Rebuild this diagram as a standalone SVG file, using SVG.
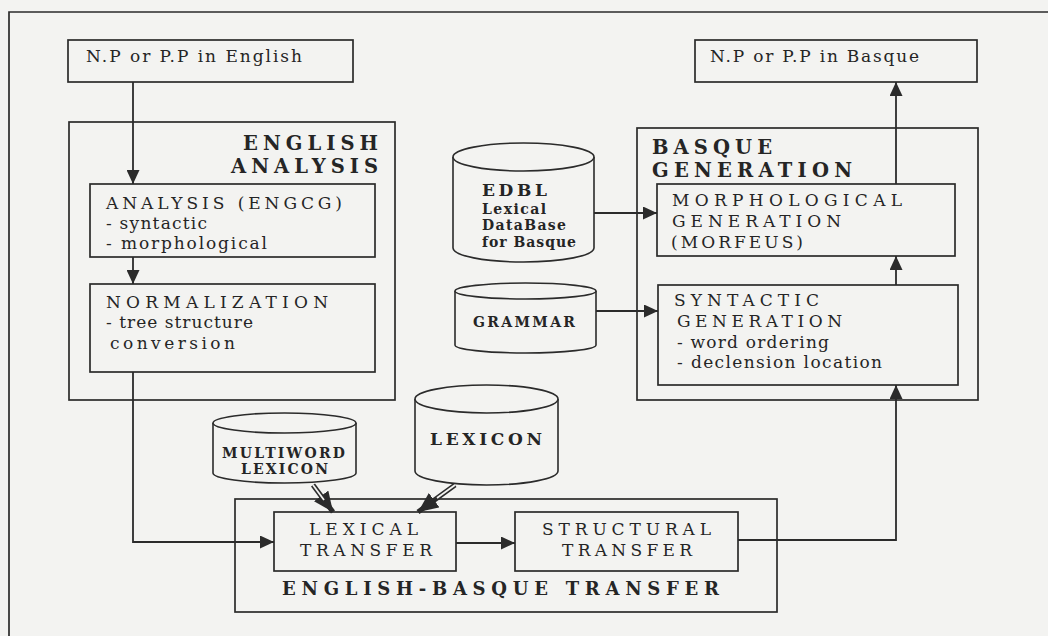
<svg xmlns="http://www.w3.org/2000/svg" width="1048" height="636" viewBox="0 0 1048 636">
<style>
.bg{fill:#f3f3f1}
.box{fill:none;stroke:#2b2b2b;stroke-width:1.7}
.cyl{fill:#f3f3f1;stroke:#2b2b2b;stroke-width:1.6}
.t{font-family:"DejaVu Serif","Liberation Serif",serif;font-size:17px;fill:#252525}
.h{font-weight:bold;font-size:19.5px}
.c{font-weight:bold;font-size:14px}
.cb{font-weight:bold;font-size:17px}
.tb{font-weight:bold;font-size:18px}
.conn{fill:none;stroke:#2b2b2b;stroke-width:1.8}
.dbl{fill:none;stroke:#2b2b2b;stroke-width:5}
.dbli{fill:none;stroke:#f3f3f1;stroke-width:1.8}
</style>
<defs>
<marker id="ah" viewBox="0 0 14 13" refX="14" refY="6.5" markerWidth="14" markerHeight="13" markerUnits="userSpaceOnUse" orient="auto">
<path d="M0,0 L14,6.5 L0,13 Z" fill="#2b2b2b"/>
</marker>
<marker id="ahb" viewBox="0 0 20 18" refX="20" refY="9" markerWidth="20" markerHeight="18" markerUnits="userSpaceOnUse" orient="auto">
<path d="M0,0 L20,9 L0,18 Z" fill="#2b2b2b"/>
</marker>
</defs>
<rect class="bg" x="0" y="0" width="1048" height="636"/>
<path class="box" d="M9,636 V12 H1048"/>

<g id="np-english">
<rect class="box" x="68" y="40" width="285" height="42"/>
<text class="t" x="86" y="62" textLength="216" lengthAdjust="spacing">N.P or P.P in English</text>
</g>
<g id="np-basque">
<rect class="box" x="695" y="40" width="282" height="42"/>
<text class="t" x="710" y="62" textLength="209" lengthAdjust="spacing">N.P or P.P in Basque</text>
</g>

<g id="english-analysis">
<rect class="box" x="69" y="122" width="326" height="278"/>
<text class="t h" x="243" y="150" textLength="135" lengthAdjust="spacing">ENGLISH</text>
<text class="t h" x="231" y="173" textLength="147" lengthAdjust="spacing">ANALYSIS</text>
</g>
<g id="analysis-engcg">
<rect class="box" x="90" y="184" width="285" height="73"/>
<text class="t" x="106" y="209" textLength="236" lengthAdjust="spacing">ANALYSIS (ENGCG)</text>
<text class="t" x="106" y="229" textLength="101" lengthAdjust="spacing">- syntactic</text>
<text class="t" x="106" y="249" textLength="161" lengthAdjust="spacing">- morphological</text>
</g>
<g id="normalization">
<rect class="box" x="90" y="284" width="285" height="88"/>
<text class="t" x="106" y="308" textLength="222" lengthAdjust="spacing">NORMALIZATION</text>
<text class="t" x="106" y="328" textLength="147" lengthAdjust="spacing">- tree structure</text>
<text class="t" x="110" y="349" textLength="125" lengthAdjust="spacing">conversion</text>
</g>

<g id="basque-generation">
<rect class="box" x="637" y="128" width="341" height="272"/>
<text class="t h" x="652" y="154" textLength="120" lengthAdjust="spacing">BASQUE</text>
<text class="t h" x="652" y="177" textLength="200" lengthAdjust="spacing">GENERATION</text>
</g>
<g id="morph-generation">
<rect class="box" x="657" y="184" width="298" height="72"/>
<text class="t" x="672" y="206" textLength="230" lengthAdjust="spacing">MORPHOLOGICAL</text>
<text class="t" x="672" y="227" textLength="169" lengthAdjust="spacing">GENERATION</text>
<text class="t" x="671" y="248" textLength="132" lengthAdjust="spacing">(MORFEUS)</text>
</g>
<g id="synt-generation">
<rect class="box" x="658" y="285" width="300" height="100"/>
<text class="t" x="674" y="306" textLength="145" lengthAdjust="spacing">SYNTACTIC</text>
<text class="t" x="677" y="327" textLength="165" lengthAdjust="spacing">GENERATION</text>
<text class="t" x="677" y="348" textLength="152" lengthAdjust="spacing">- word ordering</text>
<text class="t" x="677" y="368" textLength="205" lengthAdjust="spacing">- declension location</text>
</g>

<g id="edbl">
<path class="cyl" d="M453,157 V248 A70.5,14 0 0 0 594,248 V157"/>
<ellipse class="cyl" cx="523.5" cy="157" rx="70.5" ry="14"/>
<text class="t cb" x="482" y="196" textLength="65" lengthAdjust="spacing">EDBL</text>
<text class="t c" x="482" y="214" textLength="64" lengthAdjust="spacing">Lexical</text>
<text class="t c" x="482" y="230" textLength="84" lengthAdjust="spacing">DataBase</text>
<text class="t c" x="482" y="247" textLength="94" lengthAdjust="spacing">for Basque</text>
</g>
<g id="grammar">
<path class="cyl" d="M455,291 V345 A70.5,8 0 0 0 596,345 V291"/>
<ellipse class="cyl" cx="525.5" cy="291" rx="70.5" ry="8"/>
<text class="t c" x="473" y="327" textLength="102" lengthAdjust="spacing">GRAMMAR</text>
</g>
<g id="multiword-lexicon">
<path class="cyl" d="M213,423 V473 A71.5,10 0 0 0 356,473 V423"/>
<ellipse class="cyl" cx="284.5" cy="423" rx="71.5" ry="10"/>
<text class="t c" x="222" y="458" textLength="123" lengthAdjust="spacing">MULTIWORD</text>
<text class="t c" x="241" y="474" textLength="87" lengthAdjust="spacing">LEXICON</text>
</g>
<g id="lexicon">
<path class="cyl" d="M415,399 V471 A71.5,14 0 0 0 558,471 V399"/>
<ellipse class="cyl" cx="486.5" cy="399" rx="71.5" ry="14"/>
<text class="t cb" x="430" y="445" textLength="112" lengthAdjust="spacing">LEXICON</text>
</g>

<g id="transfer">
<rect class="box" x="235" y="499" width="542" height="113"/>
<text class="t tb" x="282" y="595" textLength="437" lengthAdjust="spacing">ENGLISH-BASQUE TRANSFER</text>
</g>
<g id="lexical-transfer">
<rect class="box" x="274" y="512" width="182" height="59"/>
<text class="t" x="309" y="535" textLength="109" lengthAdjust="spacing">LEXICAL</text>
<text class="t" x="300" y="556" textLength="132" lengthAdjust="spacing">TRANSFER</text>
</g>
<g id="structural-transfer">
<rect class="box" x="515" y="512" width="223" height="59"/>
<text class="t" x="542" y="535" textLength="169" lengthAdjust="spacing">STRUCTURAL</text>
<text class="t" x="562" y="556" textLength="130" lengthAdjust="spacing">TRANSFER</text>
</g>

<g id="connectors">
<path class="conn" d="M133,82 V184" marker-end="url(#ah)"/>
<path class="conn" d="M133,257 V284" marker-end="url(#ah)"/>
<path class="conn" d="M133,372 V542 H274" marker-end="url(#ah)"/>
<path class="conn" d="M456,543 H515" marker-end="url(#ah)"/>
<path class="conn" d="M738,540 H896 V385" marker-end="url(#ah)"/>
<path class="conn" d="M896,285 V256" marker-end="url(#ah)"/>
<path class="conn" d="M896,184 V82" marker-end="url(#ah)"/>
<path class="conn" d="M594,213 H657" marker-end="url(#ah)"/>
<path class="conn" d="M596,311 H658" marker-end="url(#ah)"/>
<path class="dbl" d="M313,485 L333,512" marker-end="url(#ahb)"/>
<path class="dbli" d="M313,485 L324,500"/>
<path class="dbl" d="M455,485 L418,512" marker-end="url(#ahb)"/>
<path class="dbli" d="M455,485 L437,498"/>
</g>
</svg>
